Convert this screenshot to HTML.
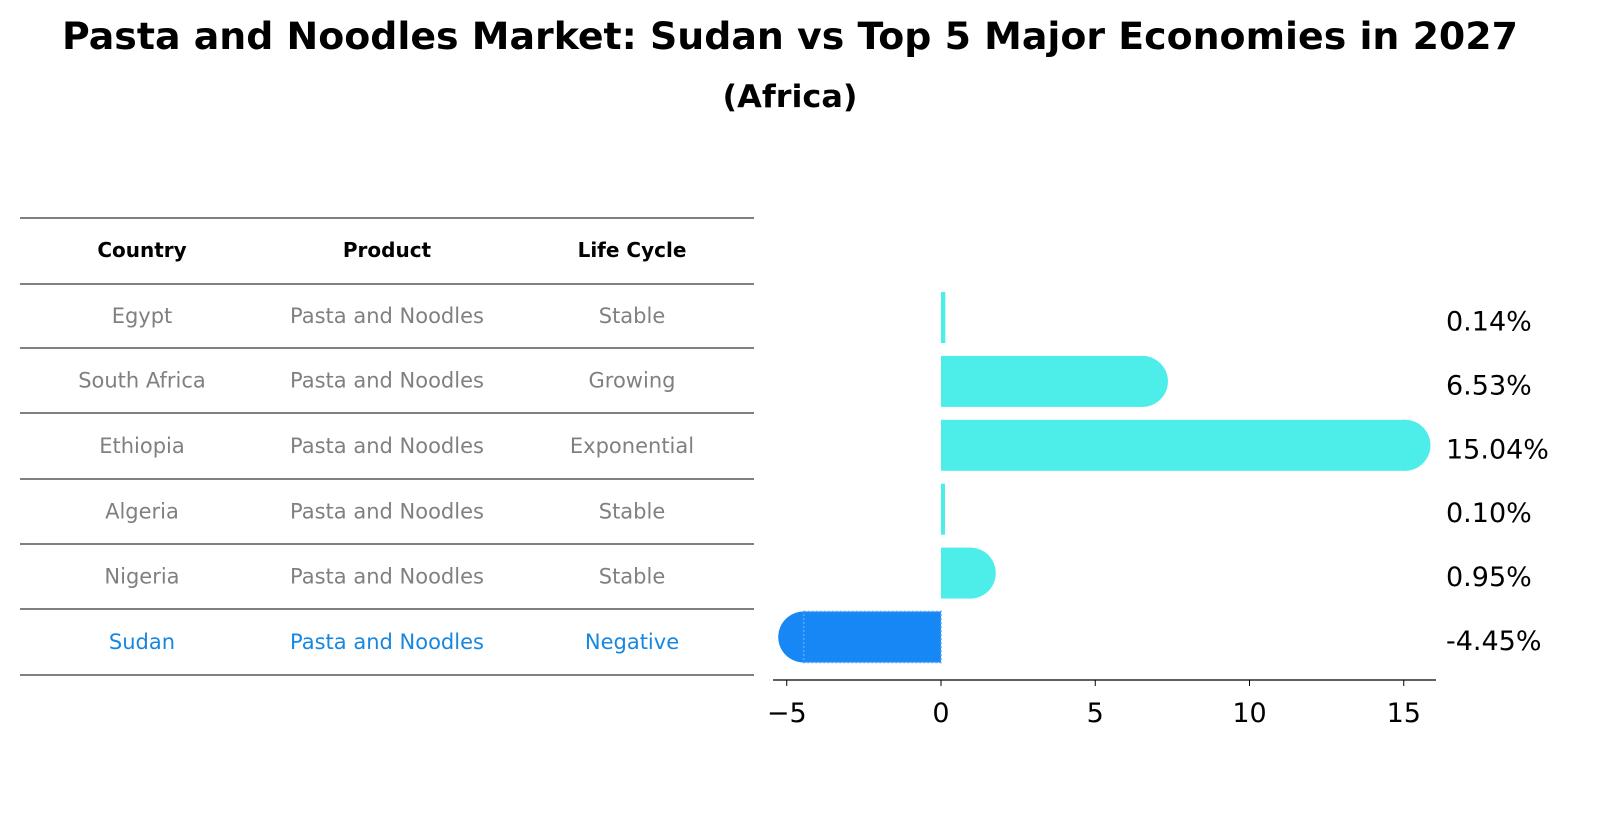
<!DOCTYPE html>
<html><head><meta charset="utf-8"><style>
body{margin:0;background:#fff;font-family:"Liberation Sans","DejaVu Sans",sans-serif}
svg text{font-family:"DejaVu Sans","Liberation Sans",sans-serif}
</style></head><body>
<svg id="c" width="1604" height="823" xmlns="http://www.w3.org/2000/svg">
<text x="790" y="49" text-anchor="middle" font-size="37" font-weight="bold" textLength="1456" lengthAdjust="spacingAndGlyphs">Pasta and Noodles Market: Sudan vs Top 5 Major Economies in 2027</text>
<text x="790" y="107" text-anchor="middle" font-size="31" font-weight="bold" textLength="135" lengthAdjust="spacingAndGlyphs">(Africa)</text>
<g id="tbl"></g>
<g id="bars"></g>
</svg>
<script>
const countries=["Egypt","South Africa","Ethiopia","Algeria","Nigeria","Sudan"];
const products=["Pasta and Noodles","Pasta and Noodles","Pasta and Noodles","Pasta and Noodles","Pasta and Noodles","Pasta and Noodles"];
const lifecycle=["Stable","Growing","Exponential","Stable","Stable","Negative"];
const values=[0.14,6.53,15.04,0.10,0.95,-4.45];
const ticks=[-5,0,5,10,15];
const NS="http://www.w3.org/2000/svg";
function mk(t,a,p,txt){const e=document.createElementNS(NS,t);for(const k in a)e.setAttribute(k,a[k]);if(txt!==undefined)e.textContent=txt;p.appendChild(e);return e;}
const tbl=document.getElementById('tbl'),bars=document.getElementById('bars');
const lineY=[218,284,348,413,479,544,609,675];
lineY.forEach(y=>{const l=mk('line',{x1:20,x2:754,y1:y,y2:y,stroke:'#000','stroke-width':1},tbl);

});
const cx=[142,387,632];
["Country","Product","Life Cycle"].forEach((h,i)=>{const t=mk('text',{x:cx[i],y:257,'text-anchor':'middle','font-size':20,'font-weight':'bold'},tbl,h);

});
countries.forEach((c,r)=>{const y=(lineY[r+1]+lineY[r+2])/2+7;const col=c==="Sudan"?'#1787e0':'#808080';
[c,products[r],lifecycle[r]].forEach((v,i)=>{const t=mk('text',{x:cx[i],y:y,'text-anchor':'middle','font-size':21,fill:col},tbl,v);

});});
const x0=941,ppu=30.85;const X=v=>x0+v*ppu;
const bh=51,rowTop=292,step=63.9;
values.forEach((v,i)=>{const y=rowTop+i*step;const col=countries[i]==="Sudan"?'#1787f5':'#4deeea';
const g=mk('g',{},bars);


const xa=Math.min(X(0),X(v)),w=Math.max(Math.abs(X(v)-X(0)),4);
mk('rect',{x:v<0?xa:X(0),y:y,width:w,height:bh,fill:col},g);
if(Math.abs(v)>0.5)mk('circle',{cx:X(v),cy:y+bh/2,r:bh/2,fill:col},g);
if(v<0)mk('rect',{x:xa,y:y,width:w,height:bh,fill:'none',stroke:'#5aa8f8','stroke-width':1.5,'stroke-dasharray':'2,2'},g);
const t=mk('text',{x:1446,y:y+bh/2+13,'font-size':27},bars,v.toFixed(2)+'%');

});
const ax=mk('line',{x1:773,x2:1436,y1:680,y2:680,stroke:'#000','stroke-width':1.3},bars);


ticks.forEach(t=>{mk('line',{x1:X(t),x2:X(t),y1:680,y2:686,stroke:'#000'},bars);
const tx=mk('text',{x:X(t),y:722,'text-anchor':'middle','font-size':27},bars,t<0?'\u2212'+Math.abs(t):t);

});
</script>
</body></html>
